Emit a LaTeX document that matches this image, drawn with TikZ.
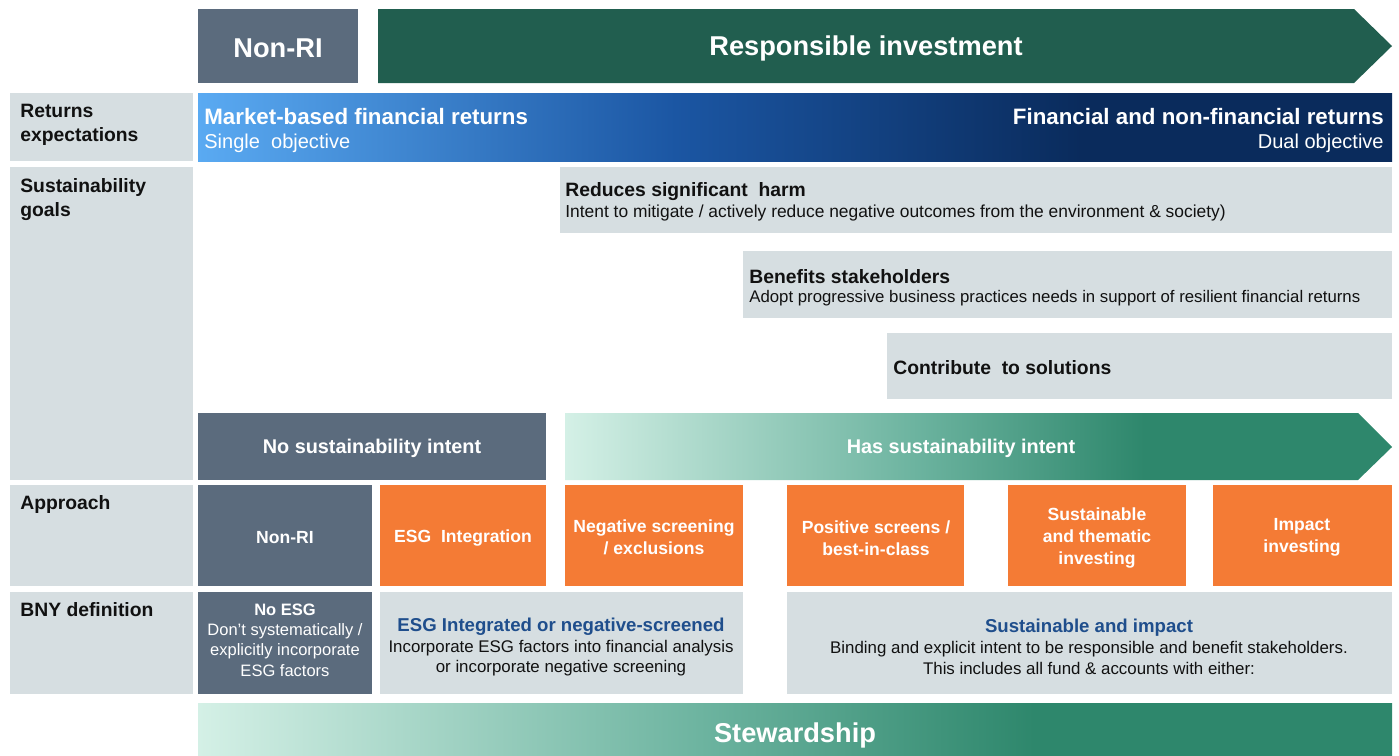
\documentclass[tikz,border=0pt]{standalone}
\usepackage{fontspec}
\setmainfont{Liberation Sans}
\definecolor{slate}{HTML}{5B6B7D}
\definecolor{rigreen}{HTML}{215E4F}
\definecolor{rowgray}{HTML}{D6DEE1}
\definecolor{esgorange}{HTML}{F47B35}
\definecolor{skyblue}{HTML}{5AAAF2}
\definecolor{midblue}{HTML}{1B56A3}
\definecolor{navy}{HTML}{0A2B5C}
\definecolor{mint}{HTML}{D4F0E6}
\definecolor{midmint}{HTML}{6DB4A0}
\definecolor{tealgreen}{HTML}{2E876C}
\definecolor{defblue}{HTML}{1F4E8C}
\definecolor{txtdark}{HTML}{111111}
% shadings: the middle 50bp are stretched over the path
\pgfdeclarehorizontalshading{returnsshade}{100bp}{color(0bp)=(skyblue); color(25bp)=(skyblue); color(45bp)=(midblue); color(62bp)=(navy); color(100bp)=(navy)}
\pgfdeclarehorizontalshading{intentshade}{100bp}{color(0bp)=(mint); color(25bp)=(mint); color(46bp)=(midmint); color(60bp)=(tealgreen); color(100bp)=(tealgreen)}
\tikzset{
  rowlabel/.style={anchor=north west, align=left, inner sep=0pt, text=txtdark,
    font=\fontsize{11}{13.6}\selectfont\bfseries},
  boxtext/.style={align=center, inner sep=0pt, text=white,
    font=\fontsize{10}{12.6}\selectfont\bfseries},
  deftext/.style={align=center, inner sep=0pt, text=txtdark,
    font=\fontsize{9.6}{11.8}\selectfont},
  goaltitle/.style={anchor=west, inner sep=0pt, text=txtdark,
    font=\fontsize{11}{13}\selectfont\bfseries},
  goalsub/.style={anchor=west, inner sep=0pt, text=txtdark,
    font=\fontsize{9.6}{11}\selectfont},
}
\begin{document}
\begin{tikzpicture}[x=0.02cm, y=-0.02cm]
\useasboundingbox (0,0) rectangle (1399,755);

% Row labels
\fill [rowgray] (10,93) rectangle (193,161);
\fill [rowgray] (10,167) rectangle (193,480);
\fill [rowgray] (10,485) rectangle (193,586);
\fill [rowgray] (10,592) rectangle (193,694);
\node [rowlabel] (returnslbl) at (20,104) {Returns\\expectations};
\node [rowlabel] (goalslbl) at (20,178) {Sustainability\\goals};
\node [rowlabel] (approachlbl) at (20,495) {Approach};
\node [rowlabel] (bnylbl) at (20,602) {BNY definition};

% Header: Non-RI and Responsible investment arrow
\fill [slate] (198,9) rectangle (358,83);
\node [boxtext, font=\fontsize{15.5}{18}\selectfont\bfseries] (nonritop) at (278,48) {Non-RI};
\fill [rigreen] (378,9) -- (1354,9) -- (1392,46) -- (1354,83) -- (378,83) -- cycle;
\node [boxtext, font=\fontsize{15.5}{18}\selectfont\bfseries] (ritop) at (866,48) {Responsible investment};

% Returns expectations bar
\shade [shading=returnsshade] (198,93) rectangle (1392,161);
\node [anchor=west, inner sep=0pt, text=white, font=\fontsize{12.7}{15}\selectfont\bfseries] (marketret) at (204,117) {Market-based financial returns};
\node [anchor=west, inner sep=0pt, text=white, font=\fontsize{11.4}{14}\selectfont] (singleobj) at (204,143) {Single\ \ objective};
\node [anchor=east, inner sep=0pt, text=white, font=\fontsize{12.7}{15}\selectfont\bfseries] (finret) at (1384,117) {Financial and non-financial returns};
\node [anchor=east, inner sep=0pt, text=white, font=\fontsize{11.4}{14}\selectfont] (dualobj) at (1384,143) {Dual objective};

% Sustainability goals
\fill [rowgray] (560,167) rectangle (1392,233);
\node [goaltitle] (harm) at (565,192) {Reduces significant\ \ harm};
\node [goalsub, font=\fontsize{9.9}{11}\selectfont] (harmsub) at (565,213) {Intent to mitigate / actively reduce negative outcomes from the environment \& society)};
\fill [rowgray] (743,251) rectangle (1392,318);
\node [goaltitle] (benefit) at (749,277) {Benefits stakeholders};
\node [goalsub, font=\fontsize{9.55}{11}\selectfont] (benefitsub) at (749,298) {Adopt progressive business practices needs in support of resilient financial returns};
\fill [rowgray] (887,333) rectangle (1392,399);
\node [goaltitle] (solutions) at (893,368) {Contribute\ \ to solutions};

% Intent bars
\fill [slate] (198,413) rectangle (546,480);
\node [boxtext, font=\fontsize{11.3}{14}\selectfont\bfseries] (nointent) at (372,448) {No sustainability intent};
\shade [shading=intentshade] (565,413) -- (1358,413) -- (1392,447) -- (1358,480) -- (565,480) -- cycle;
\node [boxtext, font=\fontsize{11.3}{14}\selectfont\bfseries] (hasintent) at (961,448) {Has sustainability intent};

% Approach boxes
\fill [slate] (198,485) rectangle (372,586);
\node [boxtext] (apnonri) at (285,538) {Non-RI};
\fill [esgorange] (380,485) rectangle (546,586);
\node [boxtext] (apesg) at (463,538) {ESG\ \ Integration};
\fill [esgorange] (565,485) rectangle (743,586);
\node [boxtext] (apneg) at (654,537) {Negative screening\\/ exclusions};
\fill [esgorange] (787,485) rectangle (964,586);
\node [boxtext] (appos) at (876,538) {Positive screens /\\best-in-class};
\fill [esgorange] (1008,485) rectangle (1186,586);
\node [boxtext] (apthem) at (1097,538) {Sustainable\\and thematic\\investing};
\fill [esgorange] (1213,485) rectangle (1392,586);
\node [boxtext] (apimpact) at (1302,537) {Impact\\investing};

% BNY definition boxes
\fill [slate] (198,592) rectangle (372,694);
\node [deftext, text=white, font=\fontsize{9.4}{11.6}\selectfont] (defnoesg) at (285,640) {\textbf{No ESG}\\Don't systematically /\\explicitly incorporate\\ESG factors};
\fill [rowgray] (380,592) rectangle (743,694);
\node [deftext] (defesg) at (561,647) {{\fontsize{10.6}{13}\selectfont\bfseries\color{defblue}ESG Integrated or negative-screened}\\Incorporate ESG factors into financial analysis\\or incorporate negative screening};
\fill [rowgray] (787,592) rectangle (1392,694);
\node [deftext] (defsust) at (1089,647) {{\fontsize{10.6}{13}\selectfont\bfseries\color{defblue}Sustainable and impact}\\Binding and explicit intent to be responsible and benefit stakeholders.\\This includes all fund \& accounts with either:};

% Stewardship bar
\shade [shading=intentshade] (198,703) rectangle (1392,755);
\node [boxtext, font=\fontsize{15.5}{18}\selectfont\bfseries] (steward) at (795,735) {Stewardship};
\end{tikzpicture}
\end{document}
